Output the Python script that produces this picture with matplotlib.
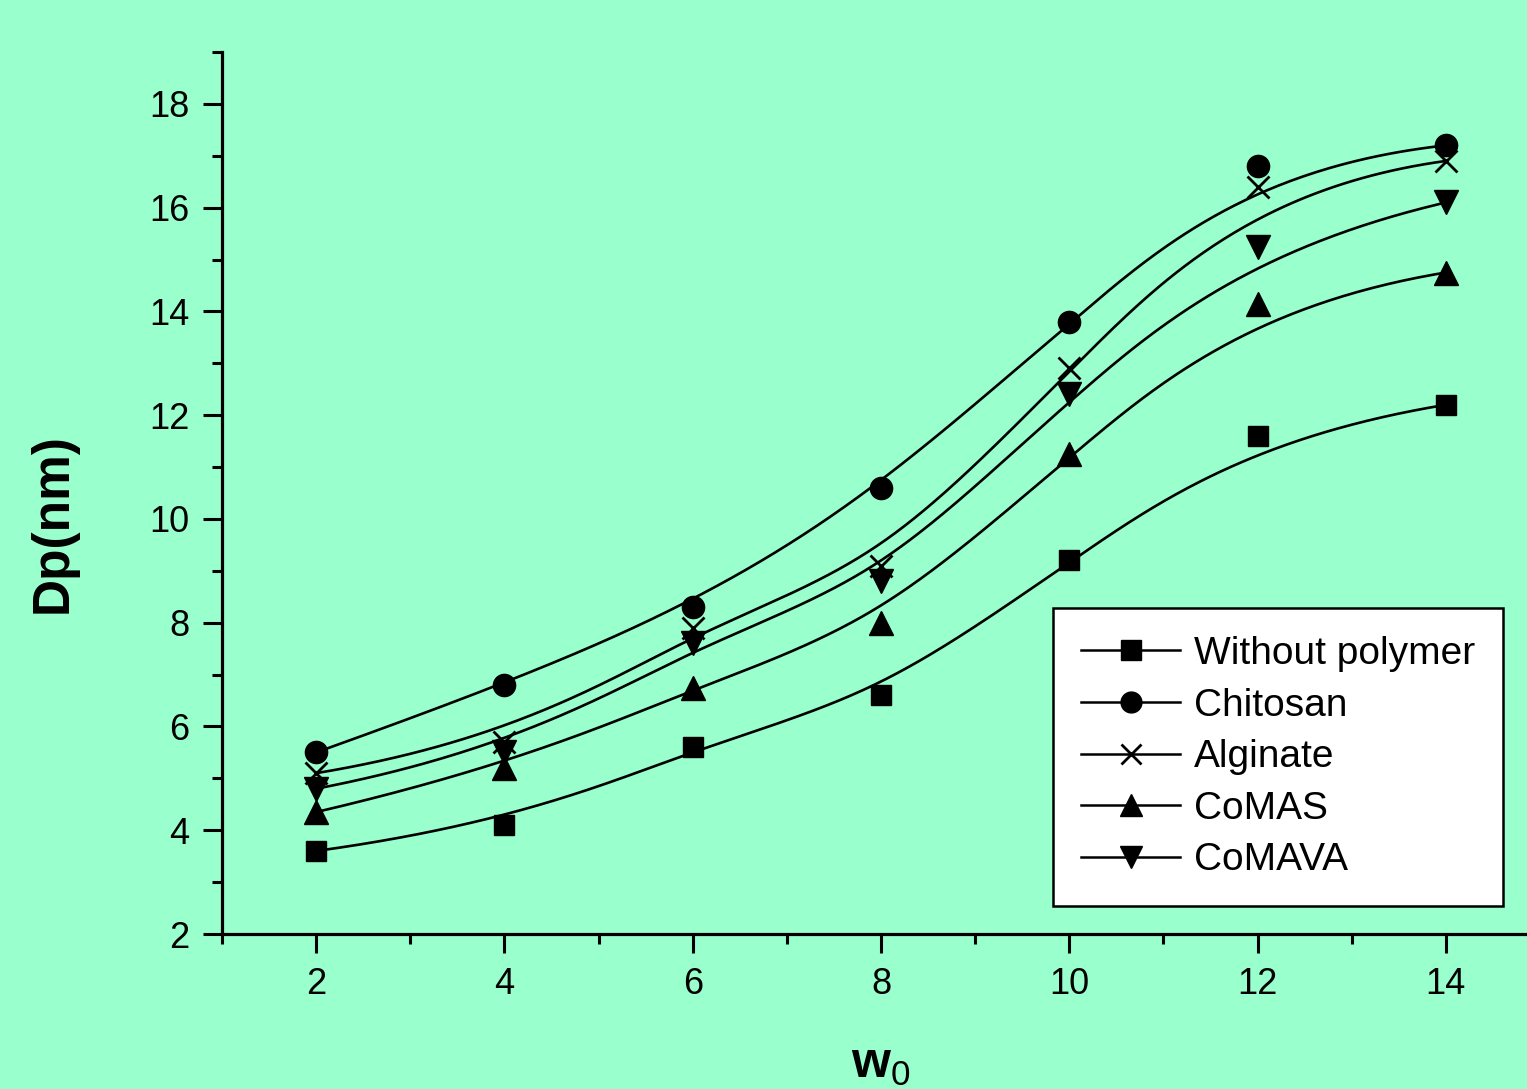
import numpy as np
import matplotlib
matplotlib.use("Agg")
import matplotlib.pyplot as plt
from matplotlib.ticker import MultipleLocator

# ---- data ----
w0 = [2, 4, 6, 8, 10, 12, 14]
without_polymer = [3.6, 4.1, 5.6, 6.6, 9.2, 11.6, 12.2]
chitosan = [5.5, 6.8, 8.3, 10.6, 13.8, 16.8, 17.2]
alginate = [5.1, 5.7, 7.9, 9.1, 12.9, 16.4, 16.9]
comas = [4.35, 5.2, 6.75, 8.0, 11.25, 14.15, 14.75]
comava = [4.8, 5.5, 7.6, 8.8, 12.4, 15.25, 16.1]
series_names = ["Without polymer", "Chitosan", "Alginate", "CoMAS", "CoMAVA"]
x_ticks = [2, 4, 6, 8, 10, 12, 14]
y_ticks = [2, 4, 6, 8, 10, 12, 14, 16, 18]

BG = "#99FFCC"
plt.rcParams["font.family"] = ["Liberation Sans", "DejaVu Sans"]
plt.rcParams["mathtext.fontset"] = "custom"
plt.rcParams["mathtext.rm"] = "Liberation Sans"
plt.rcParams["mathtext.bf"] = "Liberation Sans:bold"


def bspline(px, py, degree=3, npts=400):
    """Clamped uniform B-spline using the data points as control points."""
    P = np.column_stack([px, py]).astype(float)
    n = len(P)
    k = degree
    inner = np.arange(1, n - k)
    knots = np.concatenate([np.zeros(k + 1), inner, np.full(k + 1, n - k)]).astype(float)
    ts = np.linspace(0, n - k, npts)
    out = []
    for t in ts:
        if t >= knots[n]:
            s = n - 1
        else:
            s = np.searchsorted(knots, t, side="right") - 1
        d = [P[j + s - k].copy() for j in range(k + 1)]
        for r in range(1, k + 1):
            for j in range(k, r - 1, -1):
                i = j + s - k
                denom = knots[i + k + 1 - r] - knots[i]
                a = 0.0 if denom == 0 else (t - knots[i]) / denom
                d[j] = (1 - a) * d[j - 1] + a * d[j]
        out.append(d[k])
    out = np.array(out)
    return out[:, 0], out[:, 1]


fig = plt.figure(figsize=(15.27, 10.89), dpi=100, facecolor=BG)
ax = fig.add_axes([222 / 1527, 155 / 1089, (1540 - 222) / 1527, (934 - 52) / 1089])
ax.set_facecolor(BG)

markers = ["s", "o", "x", "^", "v"]
sizes = [15, 16, 16, 17, 17]
data = [without_polymer, chitosan, alginate, comas, comava]
handles = []
for name, vals, m, ms in zip(series_names, data, markers, sizes):
    cx, cy = bspline(w0, vals)
    ax.plot(cx, cy, color="black", lw=1.9, zorder=2)
    ax.plot(w0, vals, linestyle="none", marker=m, ms=ms, color="black",
            mew=2.0 if m == "x" else 1.0, zorder=3)
    h, = ax.plot([], [], color="black", lw=1.8, marker=m,
                 ms=ms - 1, mew=2.0 if m == "x" else 1.0, label=name)
    handles.append(h)

ax.set_xlim(1, 15)
ax.set_ylim(2, 19)
ax.set_xticks(x_ticks)
ax.set_yticks(y_ticks)
ax.xaxis.set_minor_locator(MultipleLocator(1))
ax.yaxis.set_minor_locator(MultipleLocator(1))
ax.spines["top"].set_visible(False)
ax.spines["right"].set_visible(False)
for s in ["left", "bottom"]:
    ax.spines[s].set_linewidth(2.3)
ax.tick_params(which="major", direction="out", length=13.5, width=2.2,
               labelsize=26, pad=10)
ax.tick_params(which="minor", direction="out", length=7, width=2.2)

ax.set_ylabel("Dp(nm)", fontsize=37, fontweight="bold")
ax.yaxis.set_label_coords((78 - 222) / (1540 - 222), (934 - 523) / (934 - 52))
ax.set_xlabel(r"$\mathbf{w}_{\mathrm{0}}$", fontsize=36, labelpad=29)

leg = ax.legend(handles=handles, loc="upper left",
                bbox_to_anchor=(1053 / 1527, 1 - 608 / 1089),
                bbox_transform=fig.transFigure, borderaxespad=0,
                fontsize=28, frameon=True, fancybox=False,
                handlelength=2.55, handletextpad=0.35, labelspacing=0.4,
                borderpad=0.72, numpoints=1)
fr = leg.get_frame()
fr.set_facecolor("white")
fr.set_edgecolor("black")
fr.set_linewidth(1.8)
fr.set_alpha(1)

fig.savefig("out.png", dpi=100, facecolor=BG)
